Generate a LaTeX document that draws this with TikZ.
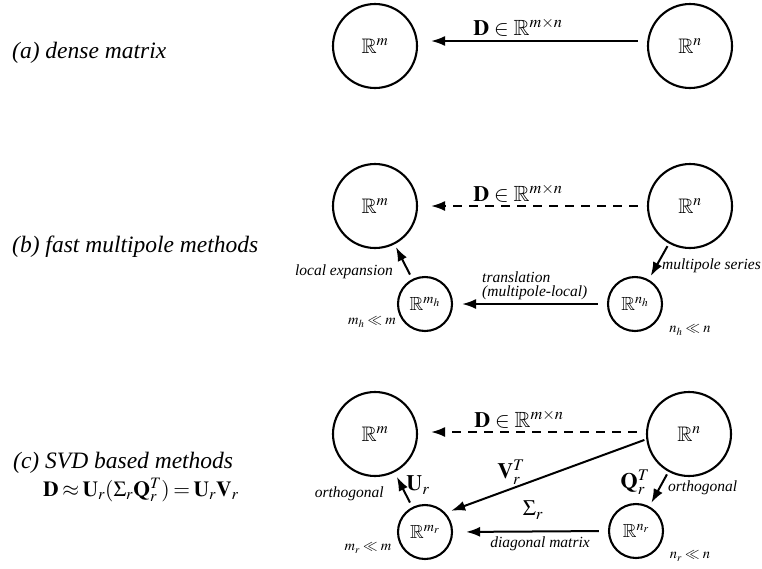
\documentclass[tikz,border=0pt]{standalone}
\usepackage{amssymb}
\usepackage{mathptmx}
\usepackage[no-math]{fontspec}
\setmainfont{Liberation Serif}
\usetikzlibrary{arrows.meta,calc}
\begin{document}
\begin{tikzpicture}[x=1pt,y=-1pt,
  big/.style={circle,draw,line width=2.1pt,minimum size=84pt,inner sep=0pt,font=\fontsize{21}{24}\selectfont},
  small/.style={circle,draw,line width=2.1pt,minimum size=54pt,inner sep=0pt,font=\fontsize{19}{22}\selectfont},
  arr/.style={line width=2pt,-{Latex[length=14pt,width=10pt]}},
  dsh/.style={arr,dash pattern=on 9pt off 7pt},
  rowlab/.style={font=\fontsize{23.5}{27}\selectfont\itshape,anchor=west,inner sep=0pt},
  lab/.style={font=\fontsize{15.5}{18}\selectfont\itshape,inner sep=0pt},
  mlab/.style={font=\fontsize{22}{26}\selectfont,inner sep=0pt},
  slab/.style={font=\fontsize{14.5}{17}\selectfont,inner sep=0pt},
]
\useasboundingbox (0,0) rectangle (762,568);

% ---------- row (a)
\node[rowlab] (ta) at (12,53) {(a) dense matrix};
\node[big] (Ra_m) at (375,46) {$\mathbb{R}^{m}$};
\node[big] (Ra_n) at (690,46) {$\mathbb{R}^{n}$};
\draw[arr,shorten <=9pt,shorten >=13pt] ([yshift=5pt]Ra_n.west) -- ([yshift=5pt]Ra_m.east);
\node[mlab] (La) at (518,27) {$\mathbf{D}\in\mathbb{R}^{m\times n}$};

% ---------- row (b)
\node[rowlab] (tb) at (12,247) {(b) fast multipole methods};
\node[big] (Rb_m) at (375,206) {$\mathbb{R}^{m}$};
\node[big] (Rb_n) at (690,206) {$\mathbb{R}^{n}$};
\node[small] (rb_m) at (425,304) {$\mathbb{R}^{m_h}$};
\node[small] (rb_n) at (635,304) {$\mathbb{R}^{n_h}$};
\draw[dsh,shorten <=9pt,shorten >=13pt] (Rb_n.west) -- (Rb_m.east);
\node[mlab] (Lb) at (518,193) {$\mathbf{D}\in\mathbb{R}^{m\times n}$};
\draw[arr,shorten <=9pt,shorten >=9pt] (rb_n.west) -- (rb_m.east);
\node[lab,anchor=west] (tr1) at (482,277) {translation};
\node[lab,anchor=west] (tr2) at (482,293) {(multipole-local)};
\draw[arr,shorten <=5pt,shorten >=3pt] (rb_m) -- (Rb_m);
\node[lab,anchor=east] (le) at (393,272) {local expansion};
\draw[arr,shorten <=3pt,shorten >=4pt] (Rb_n) -- (rb_n);
\node[lab,anchor=west] (ms) at (662,266) {multipole series};
\node[slab] (cmh) at (372,322) {$m_h\ll m$};
\node[slab] (cnh) at (690,330) {$n_h\ll n$};

% ---------- row (c)
\node[rowlab] (tc) at (13,463) {(c) SVD based methods};
\node[mlab,anchor=west,font=\fontsize{21.5}{25}\selectfont] (eq) at (43,490)
  {$\medmuskip=2mu\thickmuskip=3mu\mathbf{D}\approx\mathbf{U}_r(\Sigma_r\mathbf{Q}_r^T)=\mathbf{U}_r\mathbf{V}_r$};
\node[big] (Rc_m) at (375,434) {$\mathbb{R}^{m}$};
\node[big] (Rc_n) at (689,434) {$\mathbb{R}^{n}$};
\node[small] (rc_m) at (425,532) {$\mathbb{R}^{m_r}$};
\node[small] (rc_n) at (636,531) {$\mathbb{R}^{n_r}$};
\draw[dsh,shorten <=9pt,shorten >=13pt] ([yshift=2pt]Rc_n.west) -- ([yshift=2pt]Rc_m.east);
\node[mlab] (Lc) at (519,419) {$\mathbf{D}\in\mathbb{R}^{m\times n}$};
\draw[arr,shorten <=2pt,shorten >=6pt] (Rc_n.187) -- (rc_m.43);
\node[mlab] (Lv) at (511,472) {$\mathbf{V}_r^T$};
\draw[arr,shorten <=9pt,shorten >=13pt] (rc_n.west) -- (rc_m.east);
\node[mlab] (Ls) at (533,510) {$\Sigma_r$};
\node[lab] (dm) at (540,544) {diagonal matrix};
\draw[arr,shorten <=5pt,shorten >=5pt] (rc_m) -- (Rc_m);
\node[mlab] (Lu) at (418,485) {$\mathbf{U}_r$};
\node[lab,anchor=east] (o1) at (384,494) {orthogonal};
\draw[arr,shorten <=3pt,shorten >=4pt] (Rc_n) -- (rc_n);
\node[mlab] (Lq) at (635,482) {$\mathbf{Q}_r^T$};
\node[lab,anchor=west] (o2) at (668,488) {orthogonal};
\node[slab] (cmr) at (368,548) {$m_r\ll m$};
\node[slab] (cnr) at (690,556) {$n_r\ll n$};
\end{tikzpicture}
\end{document}
